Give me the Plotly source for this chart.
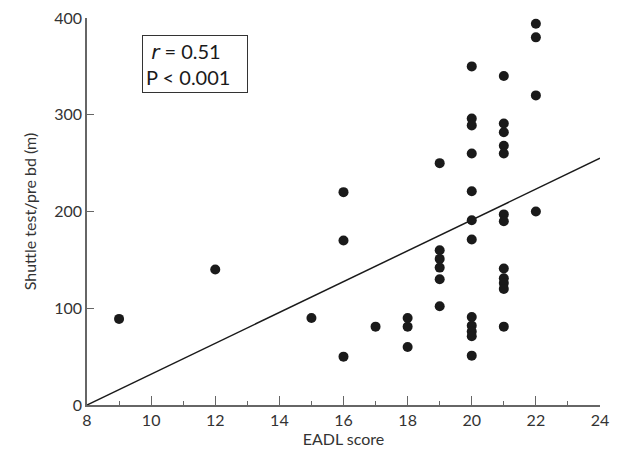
import plotly.graph_objects as go

# EADL score (x) and shuttle test distance (y)
eadl = [9, 12, 15, 16, 16, 16, 17, 18, 18, 18,
        19, 19, 19, 19, 19, 19,
        20, 20, 20, 20, 20, 20, 20, 20, 20, 20, 20, 20,
        21, 21, 21, 21, 21, 21, 21, 21, 21, 21, 21, 21,
        22, 22, 22, 22]
shuttle = [89, 140, 90, 220, 170, 50, 81, 90, 81, 60,
           250, 160, 151, 142, 130, 102,
           350, 296, 289, 260, 221, 191, 171, 91, 82, 76, 71, 51,
           340, 291, 282, 268, 260, 197, 190, 141, 131, 126, 120, 81,
           394, 380, 320, 200]

fit_x = [8, 24]
fit_y = [0, 255]

x_ticks = [8, 10, 12, 14, 16, 18, 20, 22, 24]
y_ticks = [0, 100, 200, 300, 400]

FONT = "Lato"
axis_col = "#666666"
text_col = "#333333"

fig = go.Figure()
fig.add_trace(go.Scatter(x=fit_x, y=fit_y, mode="lines",
                         line=dict(color="#1a1a1a", width=1.5), hoverinfo="skip"))
fig.add_trace(go.Scatter(x=eadl, y=shuttle, mode="markers",
                         marker=dict(color="#1a1a1a", size=10)))

fig.update_layout(
    width=610, height=445,
    margin=dict(l=79, r=18, t=10, b=48, autoexpand=False),
    paper_bgcolor="white", plot_bgcolor="white",
    showlegend=False,
    font=dict(family=FONT, color=text_col, size=15),
    xaxis=dict(range=[8, 24], tickvals=x_ticks, ticktext=[str(v) for v in x_ticks],
               automargin=False, ticklabeloverflow="allow",
               showgrid=False, zeroline=False, showline=True, linecolor=axis_col, linewidth=1.5,
               ticks="inside", ticklen=9, tickcolor=axis_col, tickwidth=1.2,
               minor=dict(ticks="inside", ticklen=4, dtick=1, tickcolor=axis_col, showgrid=False),
               tickfont=dict(size=16, family=FONT, color=text_col),
               title=dict(text="EADL score", font=dict(size=16, family=FONT, color=text_col), standoff=4)),
    yaxis=dict(range=[0, 400], tickvals=y_ticks, ticktext=[str(v) for v in y_ticks],
               automargin=False, ticklabeloverflow="allow",
               showgrid=False, zeroline=False, showline=True, linecolor=axis_col, linewidth=1.5,
               ticks="inside", ticklen=7, tickcolor=axis_col, tickwidth=1.2,
               tickfont=dict(size=16, family=FONT, color=text_col),
               title=dict(text="Shuttle test/pre bd (m)", font=dict(size=16, family=FONT, color=text_col), standoff=14)),
    annotations=[dict(
        xref="paper", yref="paper", x=0.107, y=0.955, xanchor="left", yanchor="top",
        text="&nbsp;<span style='font-family:DejaVu Sans'><i>r</i></span> = 0.51<br>P &lt; 0.001",
        align="left", showarrow=False, width=98,
        font=dict(size=20, family=FONT, color="#1a1a1a"),
        bordercolor="#333333", borderwidth=1, borderpad=3, bgcolor="white")],
)

fig.write_html("out.html")
